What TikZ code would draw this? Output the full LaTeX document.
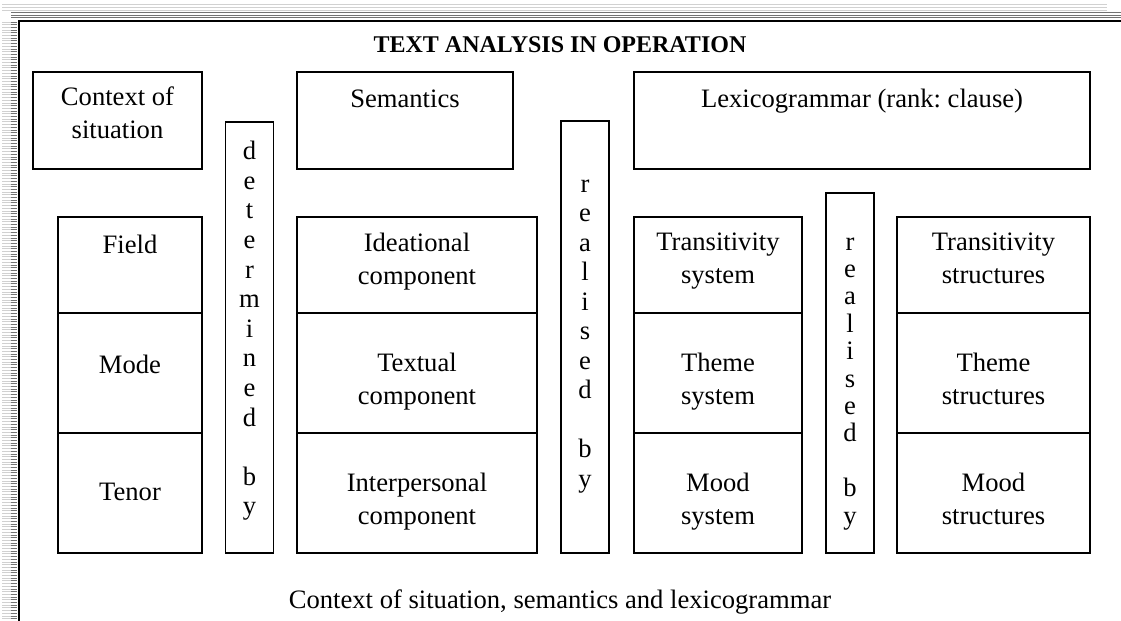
\documentclass[tikz,border=0pt]{standalone}
\usepackage{fontspec}
\setmainfont{Liberation Serif}
\frenchspacing
\usepackage{tikz}
\usetikzlibrary{backgrounds,positioning}
\pgfdeclarelayer{edgelayer}
\pgfdeclarelayer{nodelayer}
\pgfsetlayers{edgelayer,nodelayer,main}
\tikzstyle{cell}=[rectangle, draw=black, line width=0.75pt, inner sep=0pt]
\tikzstyle{strip}=[rectangle, draw=black, line width=0.75pt, inner sep=0pt, minimum width=24pt]
\tikzstyle{txt}=[align=center, inner sep=0pt, yshift=-2pt, font=\fontsize{13.3}{16.5}\selectfont, execute at begin node=\strut, execute at end node=\strut]
\tikzstyle{vtxt}=[align=center, inner sep=0pt, execute at begin node=\strut, execute at end node=\strut]
\tikzstyle{hatchlight}=[draw=black!18, line width=0.5pt]
\tikzstyle{hatchdark}=[draw=black!55, line width=0.5pt]

\begin{document}
\begin{tikzpicture}[x=0.5pt, y=-0.5pt]
            \useasboundingbox (0,0) rectangle (1121,621);
            % page border
            \begin{pgfonlayer}{edgelayer}
                \foreach \y in {4.5,7.5,10}
                    \draw [style=hatchlight] (2,\y) -- (1107,\y);
                \foreach \y in {12.5,15,17.5}
                    \draw [style=hatchdark] (11,\y) -- (1121,\y);
                \foreach \y in {22,24.7,...,621} {
                    \draw [style=hatchlight] (2,\y) -- (11,\y);
                    \draw [style=hatchdark] (11,\y) -- (17,\y);
                }
                \draw [line width=1pt] (18.5,621) -- (18.5,20.5) -- (1121,20.5);
            \end{pgfonlayer}

            \begin{pgfonlayer}{nodelayer}
                \node [font=\fontsize{12}{14}\selectfont\bfseries] (title) at (560,45) {TEXT ANALYSIS IN OPERATION};

                % top row
                \node [style=cell, minimum width=84.5pt, minimum height=48.5pt] (ctx) at (117.5,120.5) {};
                \node [style=cell, minimum width=108pt, minimum height=48.5pt] (sem) at (405,120.5) {};
                \node [style=cell, minimum width=228pt, minimum height=48.5pt] (lex) at (862,120.5) {};

                % vertical strips
                \node [style=strip, minimum height=215.5pt] (det) at (249.5,337.5) {};
                \node [style=strip, minimum height=216pt] (realA) at (585,337) {};
                \node [style=strip, minimum height=180pt] (realB) at (850,373) {};

                % context of situation
                \node [style=cell, minimum width=72pt, minimum height=48pt] (field) at (130,265) {};
                \node [style=cell, minimum width=72pt, minimum height=60pt] (mode) at (130,373) {};
                \node [style=cell, minimum width=72pt, minimum height=60pt] (tenor) at (130,493) {};

                % semantics
                \node [style=cell, minimum width=120pt, minimum height=48pt] (ideat) at (417,265) {};
                \node [style=cell, minimum width=120pt, minimum height=60pt] (textual) at (417,373) {};
                \node [style=cell, minimum width=120pt, minimum height=60pt] (interp) at (417,493) {};

                % lexicogrammar: systems
                \node [style=cell, minimum width=84pt, minimum height=48pt] (transys) at (718,265) {};
                \node [style=cell, minimum width=84pt, minimum height=60pt] (themesys) at (718,373) {};
                \node [style=cell, minimum width=84pt, minimum height=60pt] (moodsys) at (718,493) {};

                % lexicogrammar: structures
                \node [style=cell, minimum width=96.5pt, minimum height=48pt] (transtr) at (993.5,265) {};
                \node [style=cell, minimum width=96.5pt, minimum height=60pt] (themestr) at (993.5,373) {};
                \node [style=cell, minimum width=96.5pt, minimum height=60pt] (moodstr) at (993.5,493) {};
            \end{pgfonlayer}

            % texts
            \node [style=txt] (ctxtxt) at (117.5,113.5) {Context of\\situation};
            \node [style=txt] (semtxt) at (405,97) {Semantics};
            \node [style=txt] (lextxt) at (862,97) {Lexicogrammar (rank: clause)};

            \node [style=vtxt, font=\fontsize{13.3}{14.8}\selectfont] (dettxt) at (249.5,332.5) {d\\e\\t\\e\\r\\m\\i\\n\\e\\d\\\mbox{}\\b\\y};
            \node [style=vtxt, font=\fontsize{13.3}{14.75}\selectfont] (realAtxt) at (585,338) {r\\e\\a\\l\\i\\s\\e\\d\\\mbox{}\\b\\y};
            \node [style=vtxt, font=\fontsize{13.3}{13.7}\selectfont] (realBtxt) at (850,385) {r\\e\\a\\l\\i\\s\\e\\d\\\mbox{}\\b\\y};

            \node [style=txt] (fieldtxt) at (130,243) {Field};
            \node [style=txt] (modetxt) at (130,363) {Mode};
            \node [style=txt] (tenortxt) at (130,490) {Tenor};

            \node [style=txt] (ideattxt) at (417,259.5) {Ideational\\component};
            \node [style=txt] (textualtxt) at (417,380) {Textual\\component};
            \node [style=txt] (interptxt) at (417,500) {Interpersonal\\component};

            \node [style=txt] (transystxt) at (718,259.5) {Transitivity\\system};
            \node [style=txt] (themesystxt) at (718,380) {Theme\\system};
            \node [style=txt] (moodsystxt) at (718,500) {Mood\\system};

            \node [style=txt] (transtrtxt) at (993.5,259.5) {Transitivity\\structures};
            \node [style=txt] (themestrtxt) at (993.5,380) {Theme\\structures};
            \node [style=txt] (moodstrtxt) at (993.5,500) {Mood\\structures};

            \node [style=txt] (caption) at (560,598) {Context of situation, semantics and lexicogrammar};
        \end{tikzpicture}
\end{document}
